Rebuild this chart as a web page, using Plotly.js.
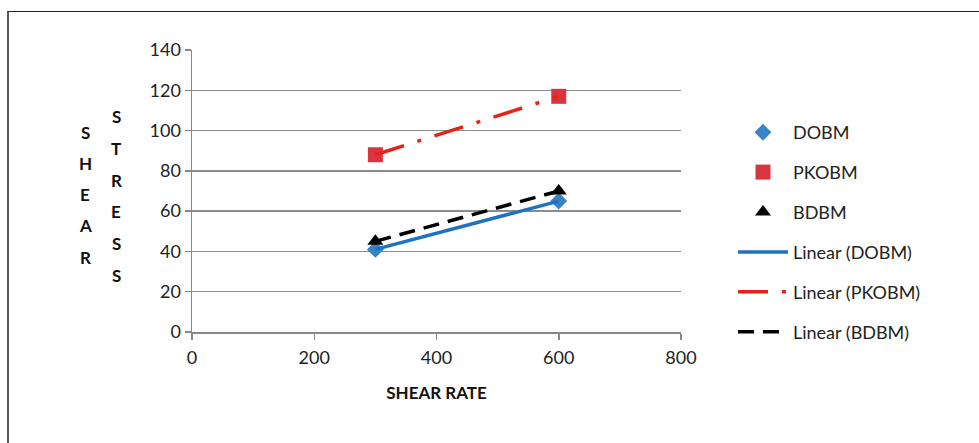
<!DOCTYPE html>
<html>
<head>
<meta charset="utf-8">
<script src="https://cdn.plot.ly/plotly-3.0.1.min.js"></script>
<style>
body{margin:0;padding:0;background:#fff;}
#wrap{position:relative;width:979px;height:443px;}
#chart{position:absolute;left:0;top:0;width:979px;height:443px;}
#frame{position:absolute;left:7px;top:11px;width:975px;height:440px;border-top:1.5px solid #222;border-left:2px solid #555;pointer-events:none;}
</style>
</head>
<body>
<div id="wrap"><div id="chart"></div><div id="frame"></div></div>
<script>
var shearRate = [300, 600];
var dobm = [41, 65];
var pkobm = [88, 117];
var bdbm = [45, 70];
var seriesNames = ["DOBM", "PKOBM", "BDBM"];
var xTicks = [0, 200, 400, 600, 800];
var yTicks = [0, 20, 40, 60, 80, 100, 120, 140];
var yTitleWords = ["SHEAR", "STRESS"];

var FONT = "Lato, 'Open Sans', sans-serif";
var L = 192, R = 681, T = 50, B = 332;
function px2x(px){ return (px - L) / (R - L); }
function py2y(py){ return (B - py) / (B - T); }

var traces = [
  {x: shearRate, y: dobm, name: seriesNames[0], mode: "markers", type: "scatter",
   marker: {symbol: "diamond", size: 13, color: "#3a83c8"}, legendgroup: "a"},
  {x: shearRate, y: pkobm, name: seriesNames[1], mode: "markers", type: "scatter",
   marker: {symbol: "square", size: 15, color: "#d93540"}, legendgroup: "b"},
  {x: shearRate, y: bdbm, name: seriesNames[2], mode: "markers", type: "scatter",
   marker: {symbol: "triangle-up", size: 14, color: "#000"}, legendgroup: "c"},
  {x: shearRate, y: dobm, name: "Linear (" + seriesNames[0] + ")", mode: "lines", type: "scatter",
   line: {color: "#1f72bf", width: 3.5}, legendgroup: "d"},
  {x: shearRate, y: pkobm, name: "Linear (" + seriesNames[1] + ")", mode: "lines", type: "scatter",
   line: {color: "#e5231a", width: 3.5, dash: "30px,14px,4px,14px"}, legendgroup: "e"},
  {x: shearRate, y: bdbm, name: "Linear (" + seriesNames[2] + ")", mode: "lines", type: "scatter",
   line: {color: "#000", width: 3.5, dash: "16px,9px"}, legendgroup: "f"}
];

var annotations = [];
function addVertical(word, px, pyStart, step){
  for (var i = 0; i < word.length; i++) {
    annotations.push({xref: "paper", yref: "paper", x: px2x(px), y: py2y(pyStart + i * step),
      xanchor: "center", yanchor: "middle", text: "<b>" + word[i] + "</b>", showarrow: false,
      font: {size: 17, color: "#111", family: FONT}});
  }
}
addVertical(yTitleWords[0], 85, 132, 31.25);
addVertical(yTitleWords[1], 116, 117, 31.6);

var layout = {
  width: 979, height: 443,
  margin: {l: L, r: 979 - R, t: T, b: 443 - B, autoexpand: false},
  paper_bgcolor: "#fff", plot_bgcolor: "#fff",
  font: {family: FONT, size: 18, color: "#222"},
  showlegend: true,
  legend: {x: px2x(733), xanchor: "left", y: py2y(114), yanchor: "top",
    traceorder: "grouped", tracegroupgap: 13.5, font: {size: 18, color: "#222"},
    itemwidth: 50, bgcolor: "rgba(0,0,0,0)"},
  xaxis: {range: [0, 800], tickvals: xTicks, ticktext: xTicks.map(String),
    showgrid: false, zeroline: false, showline: true, linecolor: "#888", linewidth: 1.5,
    ticks: "outside", ticklen: 6, tickcolor: "#888", tickwidth: 1.5, ticklabelstandoff: 3,
    tickfont: {size: 18, color: "#222"},
    title: {text: "<b>SHEAR RATE</b>", font: {size: 17, color: "#111"}, standoff: 20}},
  yaxis: {range: [0, 140], tickvals: yTicks, ticktext: yTicks.map(String),
    showgrid: true, gridcolor: "#8c8c8c", gridwidth: 1.5, zeroline: false,
    showline: true, linecolor: "#888", linewidth: 1.5,
    ticks: "outside", ticklen: 6, tickcolor: "#888", tickwidth: 1.5,
    tickfont: {size: 18, color: "#222"}},
  annotations: annotations
};

Plotly.newPlot("chart", traces, layout, {displayModeBar: false, staticPlot: true});
</script>
</body>
</html>
